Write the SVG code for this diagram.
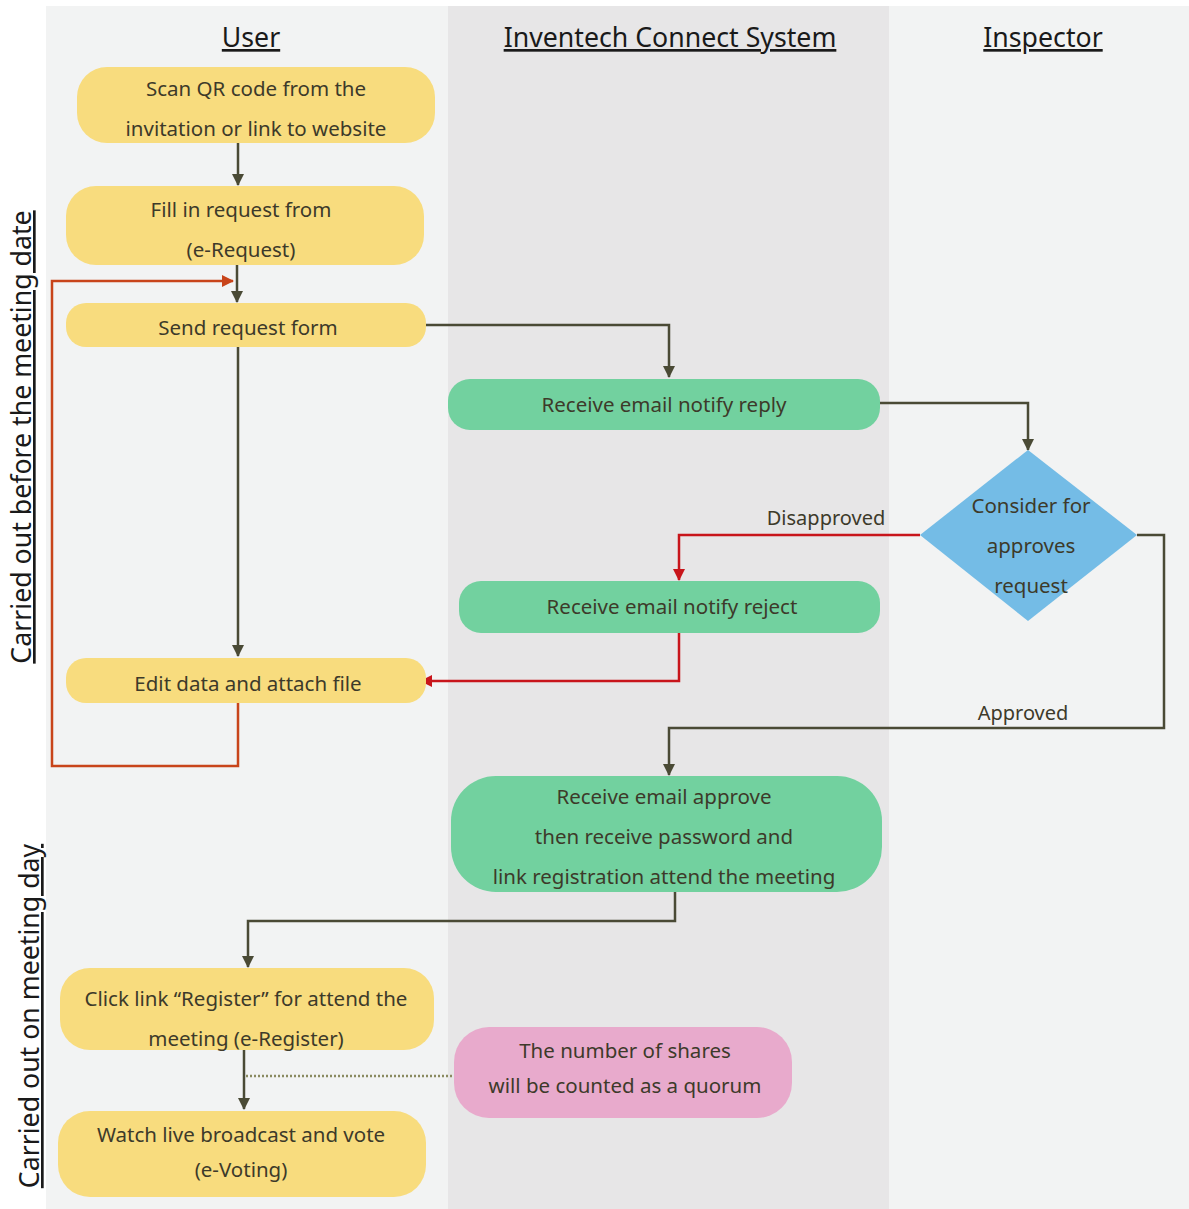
<svg xmlns="http://www.w3.org/2000/svg" width="1189" height="1209" viewBox="0 0 1189 1209">
<defs>
<style>
.lane1{fill:#f2f3f3}
.lane2{fill:#e7e6e7}
.hdr{font-family:"Noto Sans",sans-serif;font-size:26.7px;fill:#1a1a1a;text-anchor:middle;text-decoration:underline}
.side{font-family:"Noto Sans",sans-serif;font-size:26.7px;fill:#1a1a1a;text-anchor:middle;text-decoration:underline}
.t{font-family:"Noto Sans",sans-serif;font-size:20.5px;fill:#3d3a2a;text-anchor:middle;dominant-baseline:central}
.lbl{font-family:"Noto Sans",sans-serif;font-size:20px;fill:#3d3a2a;text-anchor:middle}
.y{fill:#f8dc7e}
.g{fill:#72d19f}
.b{fill:#74bce6}
.p{fill:#e8aacc}
.c{fill:none;stroke:#4a4a35;stroke-width:2.5}
.r{fill:none;stroke:#c8151b;stroke-width:2.5}
.o{fill:none;stroke:#c8441a;stroke-width:2.5}
.d{fill:none;stroke:#8a8a60;stroke-width:2.5;stroke-dasharray:2 2}
</style>
<marker id="ad" markerWidth="12" markerHeight="12" refX="11" refY="6" orient="auto" markerUnits="userSpaceOnUse"><path d="M0,0 L12,6 L0,12 z" fill="#4a4a35"/></marker>
<marker id="ar" markerWidth="12" markerHeight="12" refX="11" refY="6" orient="auto" markerUnits="userSpaceOnUse"><path d="M0,0 L12,6 L0,12 z" fill="#c8151b"/></marker>
<marker id="ao" markerWidth="12" markerHeight="12" refX="11" refY="6" orient="auto" markerUnits="userSpaceOnUse"><path d="M0,0 L12,6 L0,12 z" fill="#c8441a"/></marker>
</defs>
<rect width="1189" height="1209" fill="#ffffff"/>
<g id="lanes">
<rect class="lane1" x="46" y="6" width="402" height="1203"/>
<rect class="lane2" x="448" y="6" width="441" height="1203"/>
<rect class="lane1" x="889" y="6" width="300" height="1203"/>
<text class="hdr" x="251" y="47">User</text>
<text class="hdr" x="670" y="47">Inventech Connect System</text>
<text class="hdr" x="1043" y="47">Inspector</text>
<text class="side" transform="translate(31,437) rotate(-90)">Carried out before the meeting date</text>
<text class="side" transform="translate(39,1016) rotate(-90)">Carried out on meeting day</text>
</g>
<g id="connectors">
<path class="c" d="M238,143 V185" marker-end="url(#ad)"/>
<path class="c" d="M237,265 V302" marker-end="url(#ad)"/>
<path class="o" d="M238,703 V766 H52 V281 H233" marker-end="url(#ao)"/>
<path class="c" d="M238,347 V656" marker-end="url(#ad)"/>
<path class="c" d="M426,325 H669 V377" marker-end="url(#ad)"/>
<path class="c" d="M880,403 H1028 V450" marker-end="url(#ad)"/>
<path class="r" d="M920,535 H679 V580" marker-end="url(#ar)"/>
<text class="lbl" x="826" y="525">Disapproved</text>
<path class="r" d="M679,633 V681 H421" marker-end="url(#ar)"/>
<path class="c" d="M1137,535 H1164 V728 H669 V775" marker-end="url(#ad)"/>
<text class="lbl" x="1023" y="720">Approved</text>
<path class="c" d="M675,892 V921 H248 V967" marker-end="url(#ad)"/>
<path class="c" d="M244,1050 V1109" marker-end="url(#ad)"/>
<path class="d" d="M246,1076 H454"/>
</g>
<g id="n1"><rect class="y" x="77" y="67" width="358" height="76" rx="30"/><text class="t" x="256" y="88">Scan QR code from the</text><text class="t" x="256" y="128">invitation or link to website</text></g>
<g id="n2"><rect class="y" x="66" y="186" width="358" height="79" rx="30"/><text class="t" x="241" y="209">Fill in request from</text><text class="t" x="241" y="249">(e-Request)</text></g>
<g id="n3"><rect class="y" x="66" y="303" width="360" height="44" rx="20"/><text class="t" x="248" y="327">Send request form</text></g>
<g id="n4"><rect class="g" x="448" y="379" width="432" height="51" rx="22"/><text class="t" x="664" y="404">Receive email notify reply</text></g>
<g id="n5"><polygon class="b" points="1028,450 1137,535 1028,621 920,535"/><text class="t" x="1031" y="505">Consider for</text><text class="t" x="1031" y="545">approves</text><text class="t" x="1031" y="585">request</text></g>
<g id="n6"><rect class="g" x="459" y="581" width="421" height="52" rx="22"/><text class="t" x="672" y="606">Receive email notify reject</text></g>
<g id="n7"><rect class="y" x="66" y="658" width="360" height="45" rx="20"/><text class="t" x="248" y="683">Edit data and attach file</text></g>
<g id="n8"><rect class="g" x="451" y="776" width="431" height="116" rx="45"/><text class="t" x="664" y="796">Receive email approve</text><text class="t" x="664" y="836">then receive password and</text><text class="t" x="664" y="876">link registration attend the meeting</text></g>
<g id="n9"><rect class="y" x="60" y="968" width="374" height="82" rx="30"/><text class="t" x="246" y="998">Click link “Register” for attend the</text><text class="t" x="246" y="1038">meeting (e-Register)</text></g>
<g id="n10"><rect class="p" x="454" y="1027" width="338" height="91" rx="35"/><text class="t" x="625" y="1050">The number of shares</text><text class="t" x="625" y="1085">will be counted as a quorum</text></g>
<g id="n11"><rect class="y" x="58" y="1111" width="368" height="86" rx="32"/><text class="t" x="241" y="1134">Watch live broadcast and vote</text><text class="t" x="241" y="1169">(e-Voting)</text></g>
</svg>
